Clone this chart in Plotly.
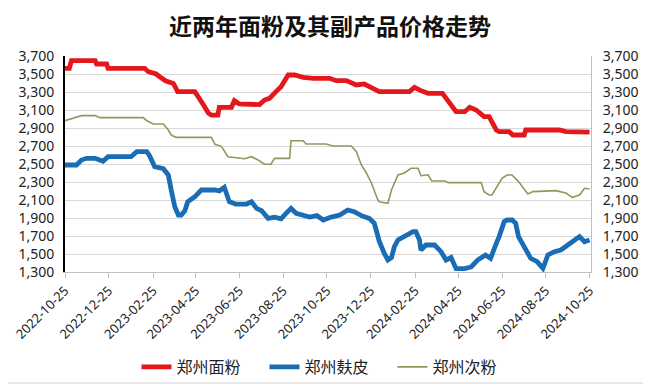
import plotly.graph_objects as go

# ---------------- data ----------------
tick_labels = ["2022-10-25", "2022-12-25", "2023-02-25", "2023-04-25", "2023-06-25",
               "2023-08-25", "2023-10-25", "2023-12-25", "2024-02-25", "2024-04-25",
               "2024-06-25", "2024-08-25", "2024-10-25"]

flour_dates = ["2022-10-25", "2022-10-31", "2022-11-03", "2022-12-06", "2022-12-08", "2022-12-22",
               "2022-12-24", "2023-02-13", "2023-02-18", "2023-03-01", "2023-03-06", "2023-03-14",
               "2023-03-25", "2023-03-31", "2023-04-24", "2023-04-29", "2023-05-06", "2023-05-13",
               "2023-05-17", "2023-05-26", "2023-05-28", "2023-06-14", "2023-06-18", "2023-06-25",
               "2023-07-16", "2023-07-23", "2023-07-30", "2023-08-06", "2023-08-15", "2023-08-22",
               "2023-09-01", "2023-09-10", "2023-09-22", "2023-10-06", "2023-10-29", "2023-11-07",
               "2023-11-21", "2023-12-05", "2023-12-16", "2023-12-28", "2024-01-06", "2024-02-17",
               "2024-02-24", "2024-03-04", "2024-03-14", "2024-04-03", "2024-04-10", "2024-04-22",
               "2024-05-04", "2024-05-11", "2024-05-20", "2024-05-31", "2024-06-07", "2024-06-17",
               "2024-06-21", "2024-07-05", "2024-07-10", "2024-07-26", "2024-07-28", "2024-09-13",
               "2024-09-22", "2024-10-11", "2024-10-25"]
flour_vals = [3563, 3563, 3648, 3648, 3611, 3611,
              3563, 3563, 3526, 3500, 3470, 3425,
              3396, 3304, 3304, 3248, 3155, 3063,
              3044, 3044, 3130, 3130, 3204, 3167,
              3167, 3160, 3211, 3230, 3304, 3359,
              3489, 3489, 3463, 3452, 3452, 3426,
              3426, 3378, 3389, 3341, 3304, 3304,
              3352, 3315, 3285, 3285, 3211, 3081,
              3081, 3130, 3100, 3026, 3026, 2878,
              2859, 2859, 2822, 2822, 2878, 2878,
              2859, 2859, 2855]

bran_dates = ["2022-10-25", "2022-11-10", "2022-11-17", "2022-11-24", "2022-12-06", "2022-12-17",
              "2022-12-24", "2023-01-25", "2023-02-02", "2023-02-16", "2023-02-20", "2023-02-27",
              "2023-03-11", "2023-03-18", "2023-03-22", "2023-03-27", "2023-04-01", "2023-04-05",
              "2023-04-10", "2023-04-14", "2023-04-24", "2023-05-03", "2023-05-22", "2023-05-28",
              "2023-06-04", "2023-06-11", "2023-06-20", "2023-07-05", "2023-07-12", "2023-07-19",
              "2023-07-26", "2023-08-04", "2023-08-13", "2023-08-22", "2023-08-29", "2023-09-05",
              "2023-09-12", "2023-09-22", "2023-10-01", "2023-10-11", "2023-10-20", "2023-10-31",
              "2023-11-12", "2023-11-23", "2023-12-02", "2023-12-12", "2023-12-23", "2023-12-30",
              "2024-01-03", "2024-01-06", "2024-01-13", "2024-01-18", "2024-01-23", "2024-01-27",
              "2024-02-01", "2024-02-10", "2024-02-22", "2024-02-26", "2024-03-02", "2024-03-04",
              "2024-03-11", "2024-03-23", "2024-03-28", "2024-04-01", "2024-04-08", "2024-04-15",
              "2024-04-22", "2024-05-04", "2024-05-13", "2024-05-22", "2024-06-02", "2024-06-09",
              "2024-06-17", "2024-06-21", "2024-06-28", "2024-07-02", "2024-07-09", "2024-07-14",
              "2024-07-18", "2024-07-23", "2024-07-28", "2024-08-04", "2024-08-13", "2024-08-21",
              "2024-08-28", "2024-09-06", "2024-09-15", "2024-09-24", "2024-10-01", "2024-10-11",
              "2024-10-18", "2024-10-25"]
bran_vals = [2489, 2489, 2544, 2563, 2563, 2530,
             2581, 2581, 2637, 2637, 2590, 2470,
             2448, 2378, 2211, 2026, 1933, 1933,
             1980, 2081, 2137, 2211, 2211, 2200,
             2241, 2081, 2055, 2055, 2080, 2007,
             1980, 1896, 1910, 1890, 1952, 2007,
             1952, 1926, 1910, 1926, 1878, 1910,
             1933, 1989, 1970, 1926, 1896, 1841,
             1720, 1640, 1507, 1433, 1460, 1581,
             1656, 1693, 1748, 1748, 1656, 1544,
             1600, 1600, 1563, 1526, 1433, 1460,
             1337, 1337, 1356, 1433, 1489, 1452,
             1619, 1693, 1859, 1878, 1878, 1841,
             1693, 1619, 1544, 1452, 1415, 1341,
             1489, 1526, 1544, 1600, 1637, 1693,
             1637, 1655]

middling_dates = ["2022-10-25", "2022-11-05", "2022-11-17", "2022-12-06", "2022-12-13", "2023-02-11",
                  "2023-02-16", "2023-02-25", "2023-03-11", "2023-03-18", "2023-03-22", "2023-03-29",
                  "2023-05-17", "2023-05-22", "2023-05-31", "2023-06-09", "2023-07-02", "2023-07-12",
                  "2023-07-21", "2023-07-30", "2023-08-08", "2023-08-13", "2023-09-03", "2023-09-05",
                  "2023-09-22", "2023-09-26", "2023-10-24", "2023-11-02", "2023-11-28", "2023-12-05",
                  "2023-12-12", "2023-12-19", "2023-12-26", "2024-01-04", "2024-01-06", "2024-01-18",
                  "2024-01-23", "2024-02-01", "2024-02-10", "2024-02-19", "2024-02-29", "2024-03-04",
                  "2024-03-14", "2024-03-19", "2024-04-07", "2024-04-11", "2024-05-27", "2024-05-31",
                  "2024-06-07", "2024-06-11", "2024-06-21", "2024-06-25", "2024-07-02", "2024-07-09",
                  "2024-07-18", "2024-07-26", "2024-07-31", "2024-08-07", "2024-09-08", "2024-09-22",
                  "2024-10-01", "2024-10-11", "2024-10-18", "2024-10-25"]
middling_vals = [2981, 3007, 3037, 3037, 3015, 3015,
                 2981, 2944, 2944, 2878, 2822, 2796,
                 2796, 2719, 2696, 2581, 2559, 2581,
                 2544, 2497, 2497, 2563, 2563, 2759,
                 2759, 2722, 2722, 2700, 2700, 2637,
                 2489, 2400, 2289, 2100, 2081, 2063,
                 2211, 2378, 2400, 2452, 2452, 2370,
                 2380, 2311, 2311, 2293, 2293, 2193,
                 2156, 2156, 2285, 2341, 2378, 2378,
                 2304, 2211, 2167, 2193, 2204, 2178,
                 2130, 2156, 2230, 2222]

series_names = ["郑州面粉", "郑州麸皮", "郑州次粉"]
y_ticks = list(range(1300, 3701, 200))

# ---------------- figure ----------------
CJK = "Noto Sans CJK SC"
NUM = "Noto Sans"

fig = go.Figure()
fig.add_trace(go.Scatter(x=flour_dates, y=flour_vals, name=series_names[0], mode="lines",
                         line=dict(color="#E4181C", width=4.8)))
fig.add_trace(go.Scatter(x=bran_dates, y=bran_vals, name=series_names[1], mode="lines",
                         line=dict(color="#1A6DB4", width=4.8)))
fig.add_trace(go.Scatter(x=middling_dates, y=middling_vals, name=series_names[2], mode="lines",
                         line=dict(color="#8D9A5C", width=1.6), yaxis="y2"))

yrange = [y_ticks[0], y_ticks[-1]]
fig.update_layout(
    width=651, height=385,
    margin=dict(l=57, r=68, t=48, b=121, autoexpand=False),
    paper_bgcolor="white", plot_bgcolor="white",
    title=dict(text="<b>近两年面粉及其副产品价格走势</b>", x=0.4946, xanchor="center",
               y=0.9506, yanchor="middle", xref="container", yref="container",
               font=dict(family=CJK, size=23, color="#111111")),
    xaxis=dict(type="date", range=["2022-10-25", "2024-10-27"],
               tickvals=tick_labels, ticktext=tick_labels, tickangle=-45,
               showgrid=False, showline=True, linecolor="#BFBFBF", linewidth=1,
               ticks="outside", ticklen=5, tickcolor="#BFBFBF",
               tickfont=dict(family=NUM, size=13, color="#222222"), zeroline=False),
    yaxis=dict(range=yrange, tickvals=y_ticks, tickformat=",", showgrid=True,
               gridcolor="#D9D9D9", gridwidth=1, showline=True, linecolor="black",
               linewidth=2, ticks="", ticklabelstandoff=6, zeroline=False,
               tickfont=dict(family=NUM, size=14, color="#222222")),
    yaxis2=dict(range=yrange, tickvals=y_ticks, tickformat=",", overlaying="y",
                side="right", showgrid=False, showline=True, linecolor="#BFBFBF",
                linewidth=1, ticks="", ticklabelstandoff=8, zeroline=False,
                tickfont=dict(family=NUM, size=14, color="#222222")),
    legend=dict(orientation="h", x=0.4923, xanchor="center", xref="container",
                y=0.0675, yanchor="middle", yref="container",
                font=dict(family=CJK, size=16, color="#222222"),
                entrywidth=83, entrywidthmode="pixels",
                bgcolor="rgba(0,0,0,0)"),
    shapes=[dict(type="rect", xref="paper", yref="paper",
                 x0=-0.1198, x1=1.1084, y0=-0.5139, y1=1.25,
                 line=dict(color="#D0D0D0", width=1), layer="below")],
)

fig.write_html("out.html")
